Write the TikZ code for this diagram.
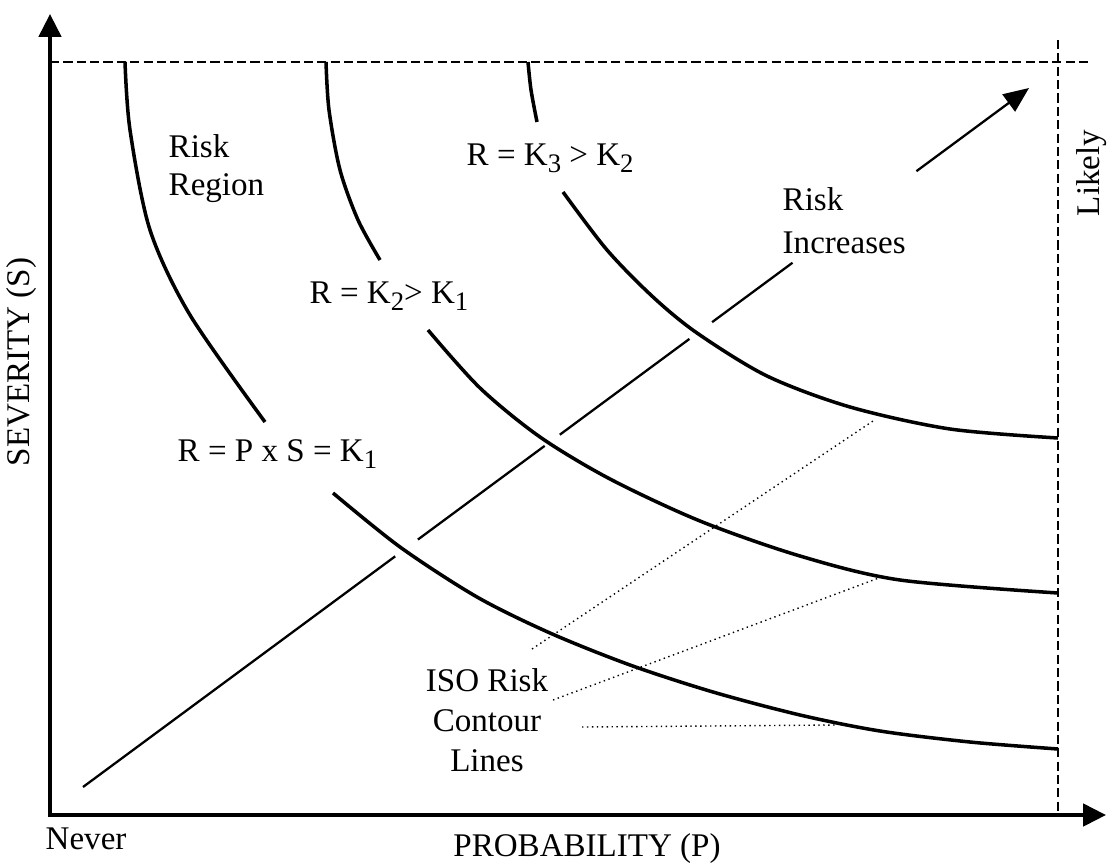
\documentclass[tikz,border=0pt]{standalone}
\usepackage{fontspec}
\setmainfont{Liberation Serif}
\usetikzlibrary{arrows.meta,calc}

\newcommand{\ksub}[1]{K\raisebox{-0.45ex}{\fontsize{7.6}{7.6}\selectfont #1}}

\begin{document}
\begin{tikzpicture}[x=0.01cm, y=-0.01cm,
    axis/.style={line width=1.1pt},
    contour/.style={line width=1pt},
    riskline/.style={line width=0.65pt},
    limitline/.style={line width=0.7pt, dash pattern=on 2.6pt off 1.2pt},
    isolead/.style={line width=0.4pt, densely dotted},
    txt/.style={font=\fontsize{9.4}{10.8}\selectfont, inner sep=0pt}]

        \useasboundingbox (0,0) rectangle (1107,864);

        % 1. 座標軸 (Probability / Severity)
        \coordinate (O)     at (50,815);
        \coordinate (P_end) at (1106,815);
        \coordinate (S_end) at (50,14);
        \draw[axis, -{Triangle[length=6.5pt,width=6.3pt]}] ([xshift=-0.55pt]O) -- (P_end);
        \draw[axis, -{Triangle[length=6.5pt,width=6.3pt]}] ([yshift=-0.55pt]O) -- (S_end);

        % 2. 虛線邊界 (最大嚴重度與 Likely)
        \coordinate (Top_L)   at (50,62);
        \coordinate (Top_R)   at (1088,62);
        \coordinate (Likely_T) at (1058,40);
        \coordinate (Likely_B) at (1058,815);
        \draw[limitline] (Top_L) -- (Top_R);
        \draw[limitline] (Likely_T) -- (Likely_B);

        % 3. 三條等風險曲線 (標籤處斷開)
        % K1
        \draw[contour] plot[smooth] coordinates {(125,62) (130,130) (150,230) (190,315) (265,422)};
        \draw[contour] plot[smooth] coordinates {(333,493) (400,547) (477,597) (550,633) (630,665) (713,692) (800,715) (880,731) (970,742) (1058,749)};
        % K2
        \draw[contour] plot[smooth] coordinates {(326,62) (329,110) (340,170) (358,220) (380,260)};
        \draw[contour] plot[smooth] coordinates {(428,330) (480,388) (540,437) (610,479) (700,521) (800,556) (900,580) (1058,593)};
        % K3
        \draw[contour] plot[smooth] coordinates {(528,62) (531,90) (537,122)};
        \draw[contour] plot[smooth] coordinates {(563,192) (607,250) (653,297) (697,333) (767,376) (850,407) (950,429) (1058,438)};

        % 4. 風險增加方向 (穿過曲線處斷開)
        \coordinate (R_start) at (83,787);
        \coordinate (R_end)   at (1029,88);
        \foreach \a/\b in {0/0.330, 0.354/0.488, 0.504/0.641, 0.665/0.750} {
            \draw[riskline] ($(R_start)!\a!(R_end)$) -- ($(R_start)!\b!(R_end)$);
        }
        \draw[riskline, -{Triangle[length=7.2pt,width=6pt]}] ($(R_start)!0.881!(R_end)$) -- (R_end);

        % 5. 文字標籤
        \node[txt, anchor=west, align=left] (region) at (168,169) {Risk\\Region};
        \node[txt, anchor=west] (k3) at (466,158) {R = \ksub{3} > \ksub{2}};
        \node[txt, anchor=west] (k2) at (309,296) {R = \ksub{2}> \ksub{1}};
        \node[txt, anchor=west] (k1) at (177,454) {R = P x S = \ksub{1}};
        \node[txt, anchor=west, align=left] (incr) at (782,221) {Risk\\[1.4pt]Increases};
        \node[txt, align=center] (iso) at (487,720) {ISO Risk\\[0.6pt]Contour\\[0.6pt]Lines};
        \node[txt, anchor=west] (never) at (45,839) {Never};
        \node[txt] (prob) at (587,849) {PROBABILITY (P)};
        \node[txt, rotate=90] (sev) at (22,362) {SEVERITY (S)};
        \node[txt, rotate=90] (likely) at (1092,173) {Likely};

        % 6. ISO 等高線指示線
        \coordinate (L3_a) at (532,649);  \coordinate (L3_b) at (873,421);
        \coordinate (L2_a) at (553,700);  \coordinate (L2_b) at (884,576);
        \coordinate (L1_a) at (582,727);  \coordinate (L1_b) at (835,725);
        \foreach \p in {1,2,3} {
            \draw[isolead] (L\p_a) -- (L\p_b);
        }

    \end{tikzpicture}
\end{document}
